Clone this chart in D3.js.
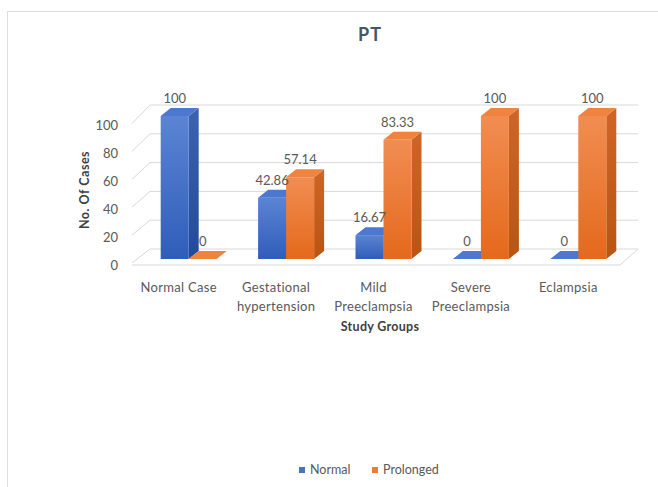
<!DOCTYPE html>
<html>
<head>
<meta charset="utf-8">
<script src="https://cdn.jsdelivr.net/npm/d3@7"></script>
<style>
  html, body { margin: 0; padding: 0; background: #fff; }
  svg { display: block; }
  text { font-family: Lato, "Open Sans", sans-serif; }
</style>
</head>
<body>
<div id="chart"></div>
<script>
const categories = [["Normal Case"], ["Gestational", "hypertension"], ["Mild", "Preeclampsia"], ["Severe", "Preeclampsia"], ["Eclampsia"]];
const seriesNames = ["Normal", "Prolonged"];
const normalValues = [100, 42.86, 16.67, 0, 0];
const prolongedValues = [0, 57.14, 83.33, 100, 100];
const valueLabels = [["100", "0"], ["42.86", "57.14"], ["16.67", "83.33"], ["0", "100"], ["0", "100"]];
const yTicks = [0, 20, 40, 60, 80, 100];

const W = 658, H = 487;
const svg = d3.select("#chart").append("svg").attr("width", W).attr("height", H);
const defs = svg.append("defs");

const colors = {
  Normal: { front: ["#5b84d3", "#2f5db9"], side: ["#3b63b0", "#234a9a"], top: "#4c78cf" },
  Prolonged: { front: ["#f18d52", "#e4691c"], side: ["#cf6526", "#b85512"], top: "#f0843f" }
};
Object.entries(colors).forEach(([k, c]) => {
  ["front", "side"].forEach(f => {
    const g = defs.append("linearGradient").attr("id", `g-${k}-${f}`)
      .attr("x1", 0).attr("y1", 0).attr("x2", 0).attr("y2", 1);
    g.append("stop").attr("offset", "0%").attr("stop-color", c[f][0]);
    g.append("stop").attr("offset", "100%").attr("stop-color", c[f][1]);
  });
});

// frame
svg.append("line").attr("x1", 7).attr("x2", 658).attr("y1", 11.5).attr("y2", 11.5).attr("stroke", "#dcdcdc");
svg.append("line").attr("x1", 7.5).attr("x2", 7.5).attr("y1", 11).attr("y2", 487).attr("stroke", "#dcdcdc");

// scales
const keys = categories.map((c, i) => i);
const x = d3.scaleBand().domain(keys).range([140, 627]).paddingInner(0.425).paddingOuter(0.2125);
const xs = d3.scaleBand().domain(seriesNames).range([0, x.bandwidth()]);
const yBar = d3.scaleLinear().domain([0, 100]).range([259, 116]);
const yBack = d3.scaleLinear().domain([0, 100]).range([249, 105]);
const yFront = d3.scaleLinear().domain([0, 100]).range([265, 125.5]);
const dx = 10, dy = -8;
const wallLeftFront = 132, wallLeftBack = 150, wallRightFront = 620, wallRightBack = 638;

// gridlines (back wall + side wall)
const grid = svg.append("g").attr("stroke", "#d9d9d9").attr("fill", "none").attr("stroke-width", 1);
yTicks.forEach(t => {
  grid.append("line").attr("x1", wallLeftBack).attr("x2", wallRightBack)
    .attr("y1", yBack(t)).attr("y2", yBack(t));
  grid.append("line").attr("x1", wallLeftFront).attr("x2", wallLeftBack)
    .attr("y1", yFront(t) - 2).attr("y2", yBack(t));
});
grid.append("line").attr("x1", wallLeftFront).attr("x2", wallRightFront)
  .attr("y1", yFront(0)).attr("y2", yFront(0));
grid.append("line").attr("x1", wallRightFront).attr("x2", wallRightBack)
  .attr("y1", yFront(0)).attr("y2", yBack(0));

// y axis tick labels
const yAxis = d3.axisLeft(yFront).tickValues(yTicks).tickSize(0).tickPadding(0);
const yg = svg.append("g").attr("transform", `translate(118,0)`).call(yAxis);
yg.select(".domain").remove();
yg.selectAll("text").attr("font-size", 13).attr("fill", "#595959")
  .style("font-family", "Lato, sans-serif");

// bars
const barsG = svg.append("g");
const data = [];
keys.forEach(i => {
  data.push({ i, s: "Normal", v: normalValues[i], label: valueLabels[i][0] });
  data.push({ i, s: "Prolonged", v: prolongedValues[i], label: valueLabels[i][1] });
});
data.forEach(d => {
  const x0 = x(d.i) + xs(d.s), x1 = x0 + xs.bandwidth();
  const yT = yBar(d.v), yB = yBar(0);
  const g = barsG.append("g");
  g.append("path").attr("d", `M${x1},${yT}L${x1 + dx},${yT + dy}L${x1 + dx},${yB + dy}L${x1},${yB}Z`)
    .attr("fill", `url(#g-${d.s}-side)`);
  if (d.v > 0) {
    g.append("rect").attr("x", x0).attr("y", yT).attr("width", x1 - x0).attr("height", yB - yT)
      .attr("fill", `url(#g-${d.s}-front)`);
  }
  g.append("path").attr("d", `M${x0},${yT}L${x0 + dx},${yT + dy}L${x1 + dx},${yT + dy}L${x1},${yT}Z`)
    .attr("fill", colors[d.s].top);
});

// value labels
svg.append("g").selectAll("text").data(data).join("text")
  .attr("x", d => x(d.i) + xs(d.s) + xs.bandwidth() / 2)
  .attr("y", d => yBar(d.v) - 13)
  .attr("text-anchor", "middle").attr("font-size", 13).attr("fill", "#595959")
  .text(d => d.label);

// category labels
const cat = svg.append("g");
categories.forEach((lines, i) => {
  const cx = x(i) + x.bandwidth() / 2 - 10;
  const t = cat.append("text").attr("text-anchor", "middle").attr("font-size", 13)
    .attr("letter-spacing", 0.3).attr("fill", "#595959");
  lines.forEach((ln, j) => {
    t.append("tspan").attr("x", cx).attr("y", 292 + j * 18.5).text(ln);
  });
});

// axis titles
svg.append("text").attr("x", 380).attr("y", 331).attr("text-anchor", "middle")
  .attr("font-size", 12.5).attr("font-weight", "bold").attr("letter-spacing", 0.3).attr("fill", "#404040").text("Study Groups");
svg.append("text").attr("transform", "translate(89,190) rotate(-90)").attr("text-anchor", "middle")
  .attr("font-size", 12.5).attr("font-weight", "bold").attr("letter-spacing", 0.5).attr("fill", "#404040").text("No. Of Cases");

// title
svg.append("text").attr("x", 370).attr("y", 41).attr("text-anchor", "middle")
  .attr("font-size", 18).attr("font-weight", "bold").attr("letter-spacing", 1).attr("fill", "#44546a").text("PT");

// legend
const legend = svg.append("g");
const legendItems = [{ s: "Normal", x: 299, c: "#4472c4" }, { s: "Prolonged", x: 372, c: "#ed7d31" }];
legendItems.forEach(l => {
  legend.append("rect").attr("x", l.x).attr("y", 467).attr("width", 6).attr("height", 6).attr("fill", l.c);
  legend.append("text").attr("x", l.x + 11).attr("y", 474).attr("font-size", 12.5).attr("fill", "#595959").text(l.s);
});
</script>
</body>
</html>
